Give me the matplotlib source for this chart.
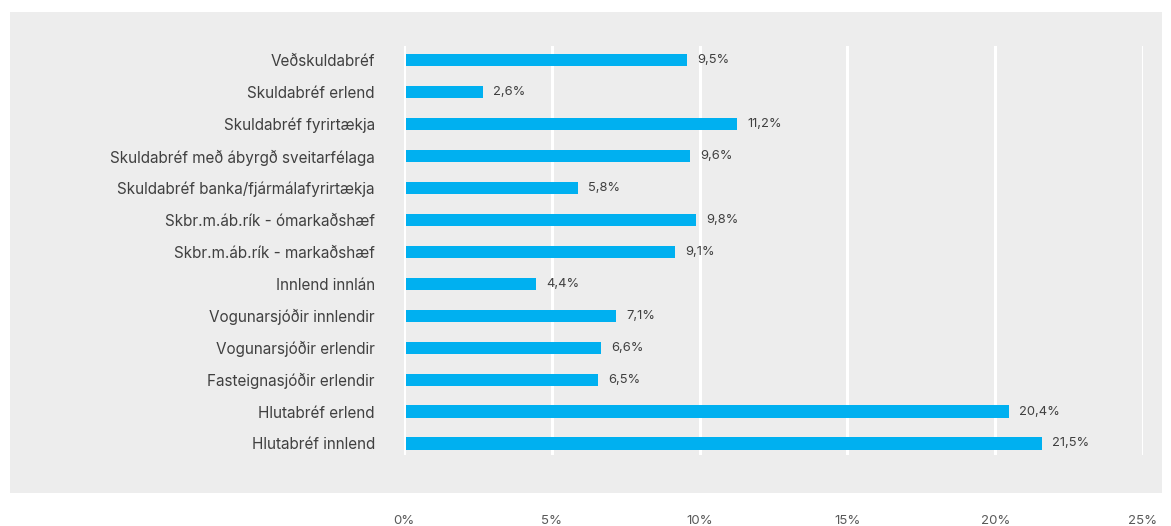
import matplotlib.pyplot as plt
from matplotlib.patches import Rectangle
from matplotlib.ticker import FuncFormatter

# flokkar og gildi (%)
flokkar = ["Veðskuldabréf", "Skuldabréf erlend", "Skuldabréf fyrirtækja",
           "Skuldabréf með ábyrgð sveitarfélaga",
           "Skuldabréf banka/fjármálafyrirtækja",
           "Skbr.m.áb.rík - ómarkaðshæf", "Skbr.m.áb.rík - markaðshæf",
           "Innlend innlán", "Vogunarsjóðir innlendir",
           "Vogunarsjóðir erlendir", "Fasteignasjóðir erlendir",
           "Hlutabréf erlend", "Hlutabréf innlend"]
gildi = [9.5, 2.6, 11.2, 9.6, 5.8, 9.8, 9.1, 4.4, 7.1, 6.6, 6.5, 20.4, 21.5]
x_ticks = [0, 5, 10, 15, 20, 25]

plt.rcParams['font.family'] = ['Inter', 'DejaVu Sans']

W, H = 1171, 526
fig = plt.figure(figsize=(W / 100, H / 100), dpi=100)
fig.patch.set_facecolor('white')

# grár bakgrunnur
fig.add_artist(Rectangle((10 / W, 1 - 493 / H), 1152 / W, 481 / H,
                         transform=fig.transFigure, facecolor='#EDEDED',
                         edgecolor='none', zorder=-10))

ax = fig.add_axes([404 / W, 1 - 455 / H, 739 / W, 409 / H])
ax.set_facecolor('none')
ax.set_zorder(1)

ypos = list(range(len(flokkar)))
ax.barh(ypos, gildi, left=0.07, height=0.38, color='#00B0F0', zorder=3)
for y, v in zip(ypos, gildi):
    ax.text(v + 0.42, y, f"{v:.1f}%".replace('.', ','), va='center',
            ha='left', fontsize=9.3, color='#404040', zorder=4)

ax.set_xlim(0, 25)
ax.set_ylim(12.36, -0.44)
ax.set_xticks(x_ticks)
ax.xaxis.set_major_formatter(FuncFormatter(lambda v, p: f"{v:.0f}%"))
ax.set_yticks(ypos)
ax.set_yticklabels(flokkar)
for s in ax.spines.values():
    s.set_visible(False)
ax.grid(axis='x', color='white', linewidth=2.2, zorder=1)
ax.tick_params(axis='x', length=0, pad=43, labelsize=9.5, labelcolor='#595959')
ax.tick_params(axis='y', length=0, pad=21, labelsize=11, labelcolor='#404040')

fig.savefig('out.png', dpi=100)
